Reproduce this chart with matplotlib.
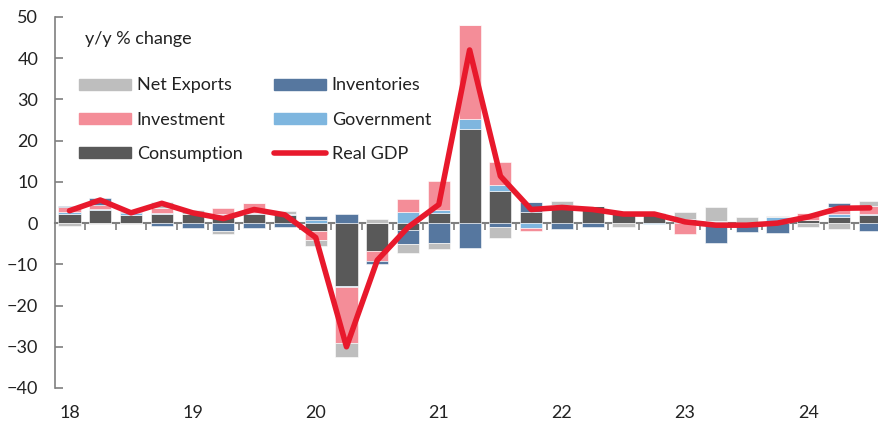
import numpy as np
import matplotlib
matplotlib.use("Agg")
import matplotlib.pyplot as plt
from matplotlib.patches import Patch
from matplotlib.lines import Line2D

plt.rcParams['font.family'] = ['Lato', 'DejaVu Sans']

# quarterly, 2018Q1 .. 2024Q3, contributions to y/y growth (pp)
quarters = [f"{y}Q{q}" for y in range(18, 25) for q in range(1, 5)][:27]
consumption = [2.1, 3.3, 1.9, 2.3, 2.3, 1.9, 2.1, 1.9, -1.9, -15.3, -6.7, -1.7, 2.5, 22.8,
               7.8, 2.7, 4.4, 4.1, 2.5, 1.9, 0.3, 0.3, -0.3, 0.0, 0.7, 1.5, 1.9]
government = [0.6, 0.2, 0.5, 0.2, 0.0, 0.4, 0.3, 0.4, 0.7, -0.3, 0.0, 2.7, 0.8, 2.4,
              1.4, -1.1, 0.0, 0.0, 0.0, -0.3, 0.0, 0.3, 0.0, 1.5, 0.0, 0.8, 0.4]
investment = [1.1, 0.9, 0.0, 1.1, 0.0, 1.3, 2.5, 0.0, -2.2, -13.6, -2.5, 3.1, 7.0, 22.8,
              5.7, -0.8, 0.0, 0.0, 0.0, 0.0, -2.7, 0.0, 0.0, 0.0, 1.8, 1.7, 1.8]
inventories = [0.3, 1.6, 0.3, -0.8, -1.3, -1.9, -1.1, -0.9, 1.1, 2.3, -0.8, -3.4, -4.8, -6.1,
               -1.0, 2.3, -1.5, -0.9, 0.0, 0.6, 0.8, -4.8, -1.8, -2.3, 0.0, 0.8, -1.9]
net_exports = [-0.8, -0.3, -0.3, 1.6, 1.0, -0.8, 0.0, 0.6, -1.4, -3.2, 1.1, -2.1, -1.5, 0.0,
               -2.5, 0.0, 0.9, 0.0, -0.9, 0.0, 1.5, 3.2, 1.4, 0.3, -1.0, -1.5, 1.2]
real_gdp = [3.0, 5.6, 2.5, 4.8, 2.5, 1.1, 3.3, 2.0, -3.5, -30.0, -9.0, -1.0, 4.5, 42.0,
            11.4, 3.3, 3.8, 3.3, 2.2, 2.2, 0.3, -0.5, -0.5, 0.0, 1.5, 3.6, 3.7]
year_labels = ["18", "19", "20", "21", "22", "23", "24"]

series = [
    ("Consumption", consumption, "#595959"),
    ("Government", government, "#7EB6DF"),
    ("Investment", investment, "#F48D98"),
    ("Inventories", inventories, "#56779F"),
    ("Net Exports", net_exports, "#BEBEBE"),
]

x = np.arange(len(quarters))
fig = plt.figure(figsize=(8.79, 4.22), dpi=100)
ax = fig.add_axes([55/879, 1-388/422, 1-55/879, (388-17)/422])

pos = np.zeros(len(x))
neg = np.zeros(len(x))
for name, vals, col in series:
    v = np.array(vals)
    base = np.where(v >= 0, pos, neg)
    ax.bar(x, v, 0.72, bottom=base, color=col, edgecolor='white', linewidth=0.4, zorder=2)
    pos += np.where(v >= 0, v, 0)
    neg += np.where(v < 0, v, 0)

ax.plot(x, real_gdp, color="#E8192C", lw=4, solid_capstyle='round',
        solid_joinstyle='round', zorder=3)

ax.set_xlim(-0.47, 26.3)
ax.set_ylim(-40, 50)
ax.set_yticks(range(-40, 51, 10))
ax.tick_params(axis='y', direction='in', length=6, width=1.2, color='#7f7f7f',
               labelsize=13, pad=12)
for t in ax.get_yticklabels():
    t.set_color('#222222')

ax.spines['top'].set_visible(False)
ax.spines['right'].set_visible(False)
ax.spines['left'].set_color('#7f7f7f')
ax.spines['left'].set_linewidth(1.2)
ax.spines['bottom'].set_position(('data', 0))
ax.spines['bottom'].set_color('#7f7f7f')
ax.spines['bottom'].set_linewidth(1.5)
ax.spines['bottom'].set_zorder(1)
ax.set_xticks(np.arange(0.5, 26, 1))
ax.set_xticklabels([])
ax.tick_params(axis='x', direction='out', length=5, width=1.2, color='#7f7f7f')

sec = ax.secondary_xaxis(-0.0)
sec.set_xticks(np.arange(0, 27, 4))
sec.set_xticklabels(year_labels)
sec.tick_params(length=0, labelsize=13, pad=12, labelcolor='#222222')
sec.spines['bottom'].set_visible(False)

ax.text(0.036, 0.94, "y/y % change", transform=ax.transAxes, fontsize=13,
        color='#222222', va='center')

handles = [
    Patch(color="#BEBEBE", label="Net Exports"),
    Patch(color="#F48D98", label="Investment"),
    Patch(color="#595959", label="Consumption"),
    Patch(color="#56779F", label="Inventories"),
    Patch(color="#7EB6DF", label="Government"),
    Line2D([], [], color="#E8192C", lw=4, solid_capstyle='round', label="Real GDP"),
]
ax.legend(handles=handles, ncol=2, frameon=False, loc='upper left',
          bbox_to_anchor=(0.029, 0.837), fontsize=13, handlelength=2.9,
          handleheight=0.55, handletextpad=0.3, columnspacing=1.75,
          labelspacing=1.02, labelcolor='#222222', borderpad=0, borderaxespad=0)

fig.savefig("out.png", dpi=100)
